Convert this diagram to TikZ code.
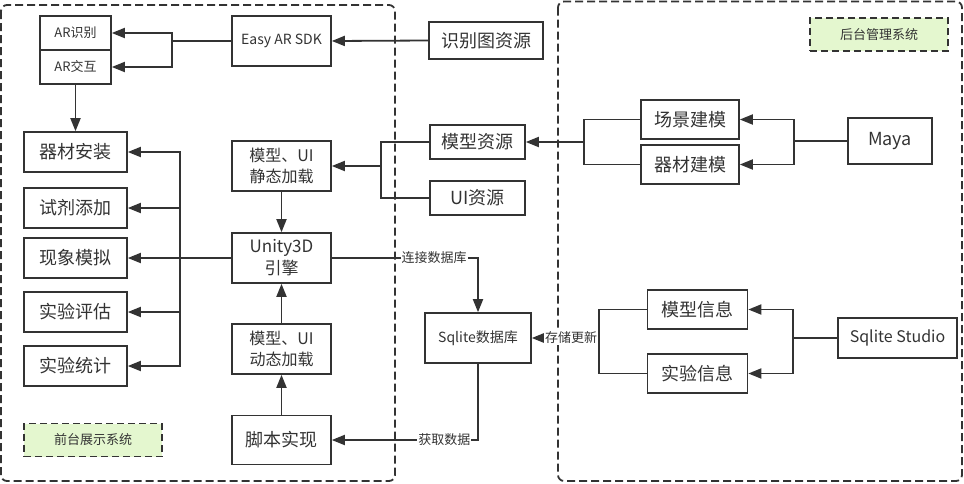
\documentclass[tikz,border=0pt]{standalone}
\usepackage{fontspec}
\setmainfont{Noto Sans CJK SC}
\usetikzlibrary{arrows.meta}

\definecolor{linegray}{HTML}{333333}
\definecolor{tagfill}{HTML}{E4F7CF}

\tikzset{
  box/.style={draw=linegray, line width=1.6pt, inner sep=0pt, text=linegray, align=center},
  bigbox/.style={box, font=\fontsize{18}{22}\selectfont},
  midbox/.style={box, font=\fontsize{16}{21}\selectfont},
  smallbox/.style={box, font=\fontsize{13}{16}\selectfont},
  wire/.style={draw=linegray, line width=1.8pt},
  arr/.style={wire, -{Triangle[length=13pt,width=10pt]}},
  frame/.style={draw=linegray, line width=1.8pt, dash pattern=on 8pt off 4pt, rounded corners=6pt},
  tag/.style={draw=linegray, fill=tagfill, line width=1.6pt, dash pattern=on 7pt off 4pt,
    minimum width=138pt, minimum height=33pt, inner sep=0pt, text=linegray,
    font=\fontsize{13}{15}\selectfont},
  edgetext/.style={fill=white, inner sep=1pt, text=linegray, font=\fontsize{13}{15}\selectfont},
}

\begin{document}
\begin{tikzpicture}[x=1pt,y=-1pt]
\useasboundingbox (0,0) rectangle (964,483);

\draw[frame] (1,5) rectangle (395,481);     % front end
\draw[frame] (558,1.5) rectangle (962,481); % back end

\node[tag] (qiantai) at (93,440) {前台展示系统};
\node[tag] (houtai) at (879,34.5) {后台管理系统};

% front end
\node[smallbox, minimum width=71pt, minimum height=34pt] (arid) at (75.5,33) {AR识别};
\node[smallbox, minimum width=71pt, minimum height=34pt] (arjh) at (75.5,67) {AR交互};
\node[box, font=\fontsize{14}{16}\selectfont, minimum width=99pt, minimum height=50pt] (easyar) at (281.5,41) {Easy AR SDK};

\node[bigbox, minimum width=103pt, minimum height=40pt] (qicai) at (75.5,152) {器材安装};
\node[bigbox, minimum width=103pt, minimum height=40pt] (shiji) at (75.5,208) {试剂添加};
\node[bigbox, minimum width=103pt, minimum height=40pt] (xianxiang) at (75.5,258) {现象模拟};
\node[bigbox, minimum width=103pt, minimum height=40pt] (pinggu) at (75.5,312) {实验评估};
\node[bigbox, minimum width=103pt, minimum height=40pt] (tongji) at (75.5,366) {实验统计};

\node[midbox, minimum width=99pt, minimum height=50pt] (jingtai) at (281.5,166) {模型、UI\\静态加载};
\node[box, font=\fontsize{17}{22}\selectfont, minimum width=99pt, minimum height=50pt] (unity) at (281.5,258) {Unity3D\\引擎};
\node[midbox, minimum width=99pt, minimum height=50pt] (dongtai) at (281.5,349) {模型、UI\\动态加载};
\node[bigbox, minimum width=99pt, minimum height=49pt] (jiaoben) at (281.5,440) {脚本实现};

% resources
\node[bigbox, minimum width=114pt, minimum height=37pt] (shibietu) at (486,40.5) {识别图资源};
\node[bigbox, minimum width=95pt, minimum height=34pt] (moxingzy) at (477.5,142) {模型资源};
\node[bigbox, minimum width=95pt, minimum height=34pt] (uizy) at (477.5,198) {UI资源};
\node[box, font=\fontsize{14}{16}\selectfont, minimum width=106pt, minimum height=50pt] (sqlite) at (478,338) {Sqlite数据库};

% back end
\node[bigbox, minimum width=98pt, minimum height=39pt] (changjing) at (690,119.5) {场景建模};
\node[bigbox, minimum width=98pt, minimum height=39pt] (qicaijm) at (690,164.5) {器材建模};
\node[bigbox, minimum width=84pt, minimum height=46pt] (maya) at (890,141) {Maya};
\node[bigbox, minimum width=100pt, minimum height=39pt] (mxxx) at (697.5,309.5) {模型信息};
\node[bigbox, minimum width=100pt, minimum height=39pt] (syxx) at (697.5,373.5) {实验信息};
\node[box, font=\fontsize{16}{19}\selectfont, minimum width=119pt, minimum height=40pt] (studio) at (897.5,338) {Sqlite Studio};

\coordinate (jar) at (172,41);
\coordinate (jbus) at (180,258);
\coordinate (jres) at (381,166);
\coordinate (jmod) at (584,142);
\coordinate (jmaya) at (794,141);
\coordinate (jinfo) at (599,338);
\coordinate (jstudio) at (793,338);

% connectors
\draw[arr] (shibietu.west) -- (easyar.east);
\draw[wire] (easyar.west) -- (jar);
\draw[arr] (jar) |- (arid.east);
\draw[arr] (jar) |- (arjh.east);
\draw[arr] (arjh.south) -- (qicai.north);

\draw[wire] (unity.west) -- (jbus);
\foreach \n in {qicai,shiji,xianxiang,pinggu,tongji}
  \draw[arr] (jbus) |- (\n.east);

\draw[arr] (jingtai.south) -- (unity.north);
\draw[arr] (dongtai.north) -- (unity.south);
\draw[arr] (jiaoben.north) -- (dongtai.south);

\draw[wire] (moxingzy.west) -| (jres) |- (uizy.west);
\draw[arr] (jres) -- (jingtai.east);

\draw[wire] (changjing.west) -| (jmod) |- (qicaijm.west);
\draw[arr] (jmod) -- (moxingzy.east);
\draw[wire] (maya.west) -- (jmaya);
\draw[arr] (jmaya) |- (changjing.east);
\draw[arr] (jmaya) |- (qicaijm.east);

\draw[arr] (unity.east) -| node[edgetext, pos=0.35] {连接数据库} (sqlite.north);
\draw[arr] (sqlite.south) |- node[edgetext, pos=0.615] {获取数据} (jiaoben.east);

\draw[wire] (mxxx.west) -| (jinfo) |- (syxx.west);
\draw[arr] (jinfo) -- node[edgetext, pos=0, anchor=east] {存储更新} (sqlite.east);
\draw[wire] (studio.west) -- (jstudio);
\draw[arr] (jstudio) |- (mxxx.east);
\draw[arr] (jstudio) |- (syxx.east);

\end{tikzpicture}
\end{document}
